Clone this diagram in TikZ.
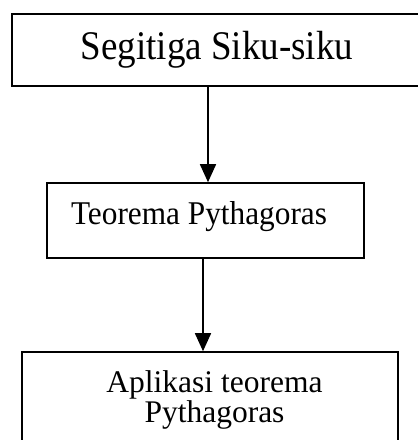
\documentclass[tikz,border=0pt]{standalone}
\usepackage{fontspec}
\setmainfont{Liberation Serif}
\usetikzlibrary{arrows.meta}
\newcommand{\tall}[2]{\scalebox{1}[#1]{#2}}
\begin{document}
\begin{tikzpicture}[x=1pt,y=-1pt,
  box/.style={draw, line width=1.6pt, rectangle, inner sep=0pt},
  txt/.style={anchor=base, inner sep=0pt},
  link/.style={draw, line width=1.6pt, -{Triangle[length=18pt,width=16pt]}}]
\useasboundingbox (0,0) rectangle (418,440);
\clip (0,0) rectangle (418,440);
% frames
\node[box, minimum width=413pt, minimum height=72pt] (top) at (218.5,50) {};
\node[box, minimum width=317pt, minimum height=75pt] (mid) at (205.5,220.5) {};
\node[box, minimum width=376pt, minimum height=100pt] (bot) at (210,402) {};
% captions
\node[txt, font=\fontsize{37}{40}\selectfont] (t1) at (217,59.5) {\tall{1.1}{Segitiga Siku-siku}};
\node[txt, font=\fontsize{31.3}{34}\selectfont] (t2) at (199,224.5) {\tall{1.06}{Teorema Pythagoras}};
\node[inner sep=0pt, anchor=north, align=center, font=\fontsize{31.5}{29.5}\selectfont]
  (t3) at (214.5,370.5) {Aplikasi teorema\\Pythagoras};
% flow
\draw[link] ([xshift=-10.5pt]top.south) -- ([xshift=2.5pt]mid.north);
\draw[link] ([xshift=-2.5pt]mid.south) -- ([xshift=-7pt]bot.north);
\end{tikzpicture}
\end{document}
